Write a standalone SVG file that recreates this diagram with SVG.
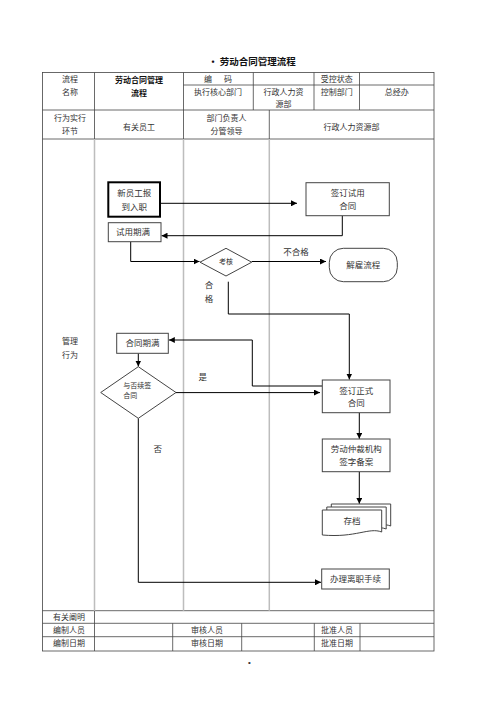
<svg xmlns="http://www.w3.org/2000/svg" width="500" height="707" viewBox="0 0 500 707">
<defs>
<marker id="arr" markerUnits="userSpaceOnUse" markerWidth="6" markerHeight="6" refX="6" refY="3" orient="auto">
<path d="M0,0 L6,3 L0,6 Z" fill="#000"/>
</marker>
<style>
text{font-family:"Liberation Serif","Noto Sans CJK SC",serif;fill:#333;dominant-baseline:central;text-anchor:middle}
.t{font-size:8px}
.f{font-size:8.5px}
.s{font-size:7px}
.tb{fill:none;stroke:#444;stroke-width:0.8}
.ln{fill:none;stroke:#bdbdbd;stroke-width:1.5}
.bx{fill:#fff;stroke:#444;stroke-width:1}
.c{fill:none;stroke:#000;stroke-width:1;marker-end:url(#arr)}
</style>
</defs>
<rect width="500" height="707" fill="#fff"/>
<text x="252" y="61" style="font-size:9.5px;font-weight:bold;fill:#111;font-family:'Noto Sans CJK SC',sans-serif">• 劳动合同管理流程</text>

<g id="table">
<rect class="tb" x="42.5" y="72.5" width="391.5" height="578.5"/>
<path class="tb" d="M94.5,72.5V139 M183.5,72.5V139 M253.3,72.5V110 M314,72.5V110 M359.5,72.5V110 M269.3,110V139 M183.5,85H434 M42.5,110H434 M42.5,139H434 M42.5,610.7H434 M42.5,623.3H434 M42.5,636.7H434 M94.5,610.7V651 M172.7,623.3V651 M241.7,623.3V651 M314.3,623.3V651 M360,623.3V651"/>
<path class="ln" d="M94.5,139V610.7 M183.5,139V610.7 M269.3,139V610.7"/>
<g class="t">
<text x="70" y="79">流程</text>
<text x="70" y="92">名称</text>
<text x="139" y="79" style="font-weight:bold;fill:#111;font-family:'Noto Sans CJK SC',sans-serif">劳动合同管理</text>
<text x="139" y="92" style="font-weight:bold;fill:#111;font-family:'Noto Sans CJK SC',sans-serif">流程</text>
<text x="218" y="79" xml:space="preserve">编      码</text>
<text x="336.7" y="79">受控状态</text>
<text x="218" y="92">执行核心部门</text>
<text x="283.6" y="92">行政人力资</text>
<text x="283.6" y="104">源部</text>
<text x="336.7" y="92">控制部门</text>
<text x="396.7" y="92">总经办</text>
<text x="70" y="118.5">行为实行</text>
<text x="70" y="131.5">环节</text>
<text x="139" y="127.5">有关员工</text>
<text x="226.4" y="118.5">部门负责人</text>
<text x="226.4" y="131.5">分管领导</text>
<text x="351.6" y="127.5">行政人力资源部</text>
<text x="70" y="341">管理</text>
<text x="70" y="355">行为</text>
<text x="69" y="617">有关阐明</text>
<text x="69" y="630">编制人员</text>
<text x="207" y="630">审核人员</text>
<text x="337" y="630">批准人员</text>
<text x="69" y="643.7">编制日期</text>
<text x="207" y="643.7">审核日期</text>
<text x="337" y="643.7">批准日期</text>
</g>
</g>

<g id="connectors">
<path class="c" d="M160,203.3H297"/>
<path class="c" d="M342.3,215.7V235.7H161.5"/>
<path class="c" d="M130.7,241.7V261.5H199.5"/>
<path class="c" d="M251.7,261.5H326"/>
<path class="c" d="M228.3,281.7V314H349.3V379.5"/>
<path class="c" d="M322.3,386H252.3V340H168.8"/>
<path class="c" d="M138.3,353.3V366.5"/>
<path class="c" d="M176,392.6H320"/>
<path class="c" d="M359.3,412.7V438.8"/>
<path class="c" d="M359.3,471.7V503.8"/>
<path class="c" d="M138.3,418.3V582.3H321"/>
<g class="f">
<text x="296" y="252">不合格</text>
<text x="209" y="285">合</text>
<text x="209" y="298.5">格</text>
<text x="202.7" y="377.3">是</text>
<text x="157.7" y="449.3">否</text>
</g>
</g>

<g id="n-entry">
<rect x="108.3" y="182.3" width="51.7" height="34.4" fill="#fff" stroke="#000" stroke-width="2"/>
<text class="f" x="134.2" y="193.3">新员工报</text>
<text class="f" x="134.2" y="206.5">到入职</text>
</g>
<g id="n-probation-contract">
<rect class="bx" x="306" y="182.7" width="83.3" height="33"/>
<text class="f" x="347.7" y="193.3">签订试用</text>
<text class="f" x="347.7" y="206">合同</text>
</g>
<g id="n-probation-end">
<rect class="bx" x="108.3" y="222.7" width="52.7" height="19"/>
<text class="f" x="133" y="232.2">试用期满</text>
</g>
<g id="n-assess">
<path class="bx" d="M200,262.2L226,248.3L251.7,262.2L226,276Z"/>
<text class="s" x="226" y="262.2">考核</text>
</g>
<g id="n-dismiss">
<rect class="bx" x="329.3" y="248.3" width="68" height="33.4" rx="14" ry="14"/>
<text class="f" x="363.3" y="265">解雇流程</text>
</g>
<g id="n-contract-end">
<rect class="bx" x="116.7" y="333.3" width="51.6" height="20"/>
<text class="f" x="142.5" y="343.3">合同期满</text>
</g>
<g id="n-renew">
<path class="bx" d="M100.7,392.5L138.3,366.7L176,392.5L138.3,418.3Z"/>
<text class="s" x="123.3" y="385.7" style="text-anchor:start">与否续签</text>
<text class="s" x="123.3" y="396.3" style="text-anchor:start">合同</text>
</g>
<g id="n-formal-contract">
<rect class="bx" x="322.3" y="380" width="67.7" height="32.7"/>
<text class="f" x="356.2" y="390.7">签订正式</text>
<text class="f" x="356.2" y="402.7">合同</text>
</g>
<g id="n-arbitration">
<rect class="bx" x="322.3" y="439" width="67.7" height="32.7"/>
<text class="f" x="356.2" y="448.5">劳动仲裁机构</text>
<text class="f" x="356.2" y="461.7">签字备案</text>
</g>
<g id="n-archive">
<path class="bx" d="M331.3,504H390.7V526C378,521 365,532 331.3,529Z"/>
<path class="bx" d="M326.8,507H386.2V529C373.5,524 360.5,535 326.8,532Z"/>
<path class="bx" d="M322.3,510H381.7V532C369,527 356,538 322.3,535Z"/>
<text class="f" x="352" y="521">存档</text>
</g>
<g id="n-resign">
<rect class="bx" x="321.7" y="569" width="67.6" height="20"/>
<text class="f" x="355.5" y="579">办理离职手续</text>
</g>
<text x="249.3" y="662" style="font-size:8px;font-family:'Liberation Sans',sans-serif">•</text>
</svg>
